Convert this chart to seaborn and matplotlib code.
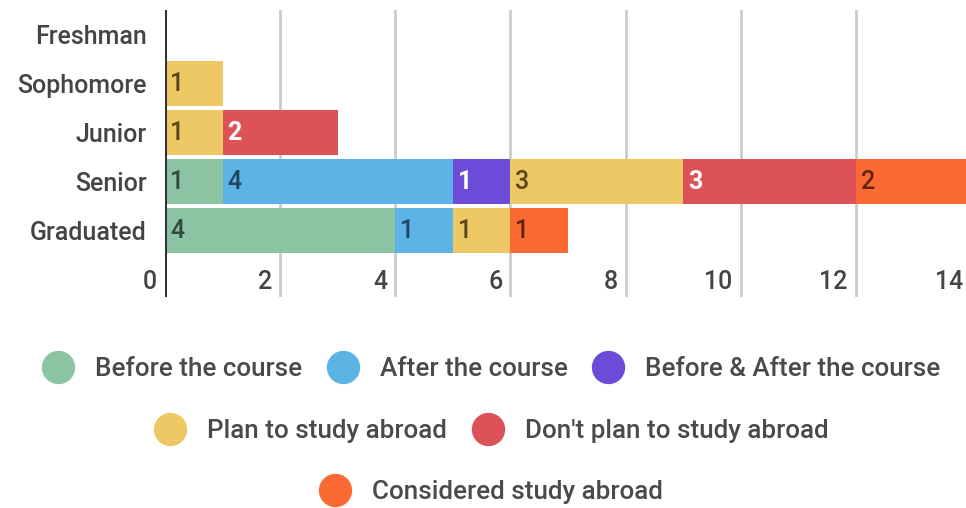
import matplotlib
matplotlib.use("Agg")
import matplotlib.pyplot as plt
from matplotlib.lines import Line2D
import matplotlib.transforms as mtrans
import seaborn as sns
import pandas as pd

categories = ["Freshman", "Sophomore", "Junior", "Senior", "Graduated"]
series_names = ["Before the course", "After the course", "Before & After the course",
                "Plan to study abroad", "Don't plan to study abroad", "Considered study abroad"]
before_course = [0, 0, 0, 1, 4]
after_course = [0, 0, 0, 4, 1]
before_after = [0, 0, 0, 1, 0]
plan_abroad = [0, 1, 1, 3, 1]
dont_plan = [0, 0, 2, 3, 0]
considered = [0, 0, 0, 2, 1]
x_ticks = [0, 2, 4, 6, 8, 10, 12, 14]

colors = ["#8CC4A3", "#5BB4E5", "#6C4BD9", "#EFC866", "#DC5257", "#FC6A33"]
label_colors = ["#34493d", "#22465e", "#ffffff", "#574619", "#ffffff", "#5e2410"]

sns.set_theme(style="white")
plt.rcParams["font.family"] = ["Roboto", "DejaVu Sans"]

FS = 18
LFS = 18.7
WT = "medium"

values = [before_course, after_course, before_after, plan_abroad, dont_plan, considered]
df = pd.DataFrame({name: v for name, v in zip(series_names, values)}, index=categories)
cum = df.cumsum(axis=1)
starts = cum - df

fig = plt.figure(figsize=(9.66, 5.08), dpi=100)
W, H = 966, 508
ax = fig.add_axes([165 / W, 1 - 297 / H, (971 - 165) / W, 287 / H])

for k in range(len(series_names) - 1, -1, -1):
    name = series_names[k]
    d = pd.DataFrame({"cat": categories, "val": cum[name].values})
    sns.barplot(data=d, y="cat", x="val", order=categories, color=colors[k],
                width=0.9, linewidth=0, saturation=1, ax=ax, zorder=3)

ax.set_xlim(0, 14)
ax.set_ylim(5.357, -0.5)
ax.set_xlabel("")
ax.set_ylabel("")
for s in ax.spines.values():
    s.set_visible(False)

ax.set_xticks(x_ticks)
ax.xaxis.grid(True, color="#cccccc", linewidth=2, zorder=0)
ax.set_axisbelow(True)
ax.tick_params(axis="x", length=0, labelbottom=False)
ax.axvline(0, color="#333333", linewidth=2.2, zorder=5)

off = mtrans.ScaledTranslation(-8 / 100, 0, fig.dpi_scale_trans)
for t in x_ticks:
    ax.text(t, 5.05, str(t), ha="right", va="center", fontsize=FS, fontweight=WT,
            color="#444444", transform=ax.transData + off)

ax.tick_params(axis="y", length=0, pad=13, labelsize=FS, labelcolor="#444444")
for lab in ax.get_yticklabels():
    lab.set_fontweight(WT)

for k, name in enumerate(series_names):
    for i, cat in enumerate(categories):
        v = df.loc[cat, name]
        if v > 0:
            ax.annotate(str(v), xy=(starts.loc[cat, name], i), xytext=(5, 0),
                        textcoords="offset pixels", ha="left", va="center",
                        fontsize=FS, color=label_colors[k], zorder=6,
                        fontweight="bold" if label_colors[k] == "#ffffff" else WT)

handles = [Line2D([], [], marker="o", linestyle="none", markersize=23,
                  markerfacecolor=c, markeredgecolor=c) for c in colors]
rows = [(0, 3, 1 - 369 / H), (3, 5, 1 - 431 / H), (5, 6, 1 - 492 / H)]
for a, b, yy in rows:
    leg = fig.legend(handles[a:b], series_names[a:b], ncol=b - a, loc="center",
                     bbox_to_anchor=(491 / W, yy), frameon=False,
                     prop={"size": LFS, "weight": WT},
                     handlelength=1.25, handletextpad=0.8, columnspacing=0.95,
                     borderpad=0, borderaxespad=0)
    for txt in leg.get_texts():
        txt.set_color("#4a4a4a")

fig.savefig("out.png", dpi=100)
